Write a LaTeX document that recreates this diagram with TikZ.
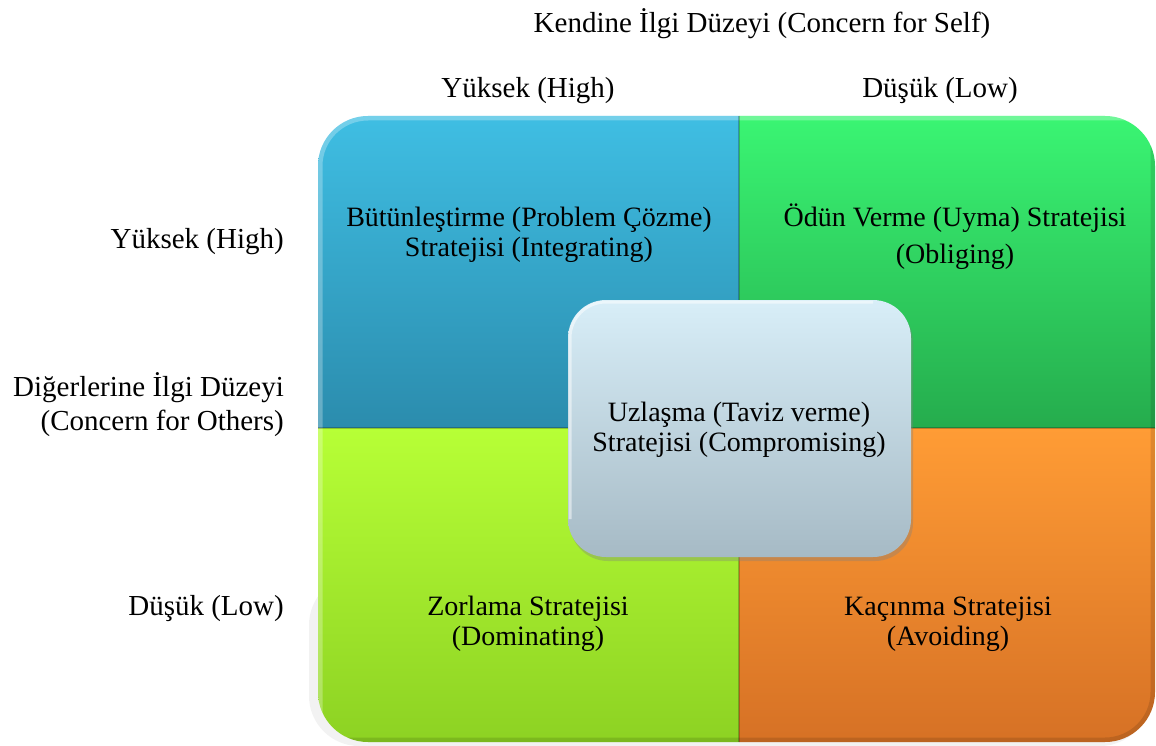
\documentclass[tikz,border=0pt]{standalone}
\usepackage{fontspec}
\setmainfont{Liberation Serif}
\newfontfamily\labelfont{Liberation Serif}
\usetikzlibrary{shadows}

\definecolor{blueT}{HTML}{3FBEE3}
\definecolor{blueB}{HTML}{2B8CAD}
\definecolor{greenT}{HTML}{3AF573}
\definecolor{greenB}{HTML}{25AC4D}
\definecolor{limeT}{HTML}{B7FF36}
\definecolor{limeB}{HTML}{8DD223}
\definecolor{orangeT}{HTML}{FF9C35}
\definecolor{orangeB}{HTML}{D67125}
\definecolor{boxT}{HTML}{D8EEF8}
\definecolor{boxB}{HTML}{A6BAC5}

\tikzset{
  axislabel/.style={font=\labelfont\fontsize{29}{34}\selectfont, inner sep=0pt, align=center},
  quadlabel/.style={font=\labelfont\fontsize{28}{30}\selectfont, inner sep=0pt, align=center},
  divider/.style={black, opacity=0.22, line width=2pt},
}

\begin{document}
\begin{tikzpicture}[x=1pt,y=1pt]
\useasboundingbox (0,0) rectangle (1156,-746);

% faint shadow behind the lower part of the grid
\fill[black!5, rounded corners=50pt] (309,-575) rectangle (1150,-746);

% the four quadrants, clipped to one rounded square
\begin{scope}
  \clip[rounded corners=50pt] (318,-116) rectangle (1155,-742);
  \shade[top color=blueT, bottom color=blueB] (318,-116) rectangle (739,-428);
  \shade[top color=greenT, bottom color=greenB] (739,-116) rectangle (1155,-428);
  \shade[top color=limeT, bottom color=limeB] (318,-428) rectangle (739,-742);
  \shade[top color=orangeT, bottom color=orangeB] (739,-428) rectangle (1155,-742);
  % bevel: light top/left edge, dark bottom/right edge
  \draw[white, opacity=0.28, line width=9pt, rounded corners=50pt]
    (1155,-116) -- (318,-116) -- (318,-742);
  \draw[black, opacity=0.12, line width=9pt, rounded corners=50pt]
    (318,-742) -- (1155,-742) -- (1155,-116);
  % quadrant edges
  \draw[divider] (739,-116) -- (739,-742);
  \draw[divider] (318,-428) -- (1155,-428);
\end{scope}

% central rounded box
\shade[top color=boxT, bottom color=boxB, rounded corners=38pt,
  drop shadow={opacity=0.35, shadow xshift=2pt, shadow yshift=-4pt}]
  (568,-300) rectangle (911,-557);
\draw[white, opacity=0.5, line width=3pt, rounded corners=36pt]
  (873,-302) -- (570,-302) -- (570,-519);

% axis labels
\node[axislabel] (self) at (762,-24) {Kendine İlgi Düzeyi (Concern for Self)};
\node[axislabel] (selfhigh) at (528,-91) {Yüksek (High)};
\node[axislabel] (selflow) at (940,-91) {Düşük (Low)};
\node[axislabel, anchor=east] (othhigh) at (284,-242) {Yüksek (High)};
\node[axislabel, anchor=east, align=right] (others) at (284,-405)
  {Diğerlerine İlgi Düzeyi\\(Concern for Others)};
\node[axislabel, anchor=east] (othlow) at (284,-609) {Düşük (Low)};

% strategy labels
\node[quadlabel] (integ) at (529,-235) {Bütünleştirme (Problem Çözme)\\Stratejisi (Integrating)};
\node[quadlabel, font=\labelfont\fontsize{28}{37}\selectfont] (oblig) at (955,-237)
  {Ödün Verme (Uyma) Stratejisi\\(Obliging)};
\node[quadlabel] (compr) at (739,-430) {Uzlaşma (Taviz verme)\\Stratejisi (Compromising)};
\node[quadlabel] (domin) at (528,-624) {Zorlama Stratejisi\\(Dominating)};
\node[quadlabel] (avoid) at (948,-624) {Kaçınma Stratejisi\\(Avoiding)};
\end{tikzpicture}
\end{document}
